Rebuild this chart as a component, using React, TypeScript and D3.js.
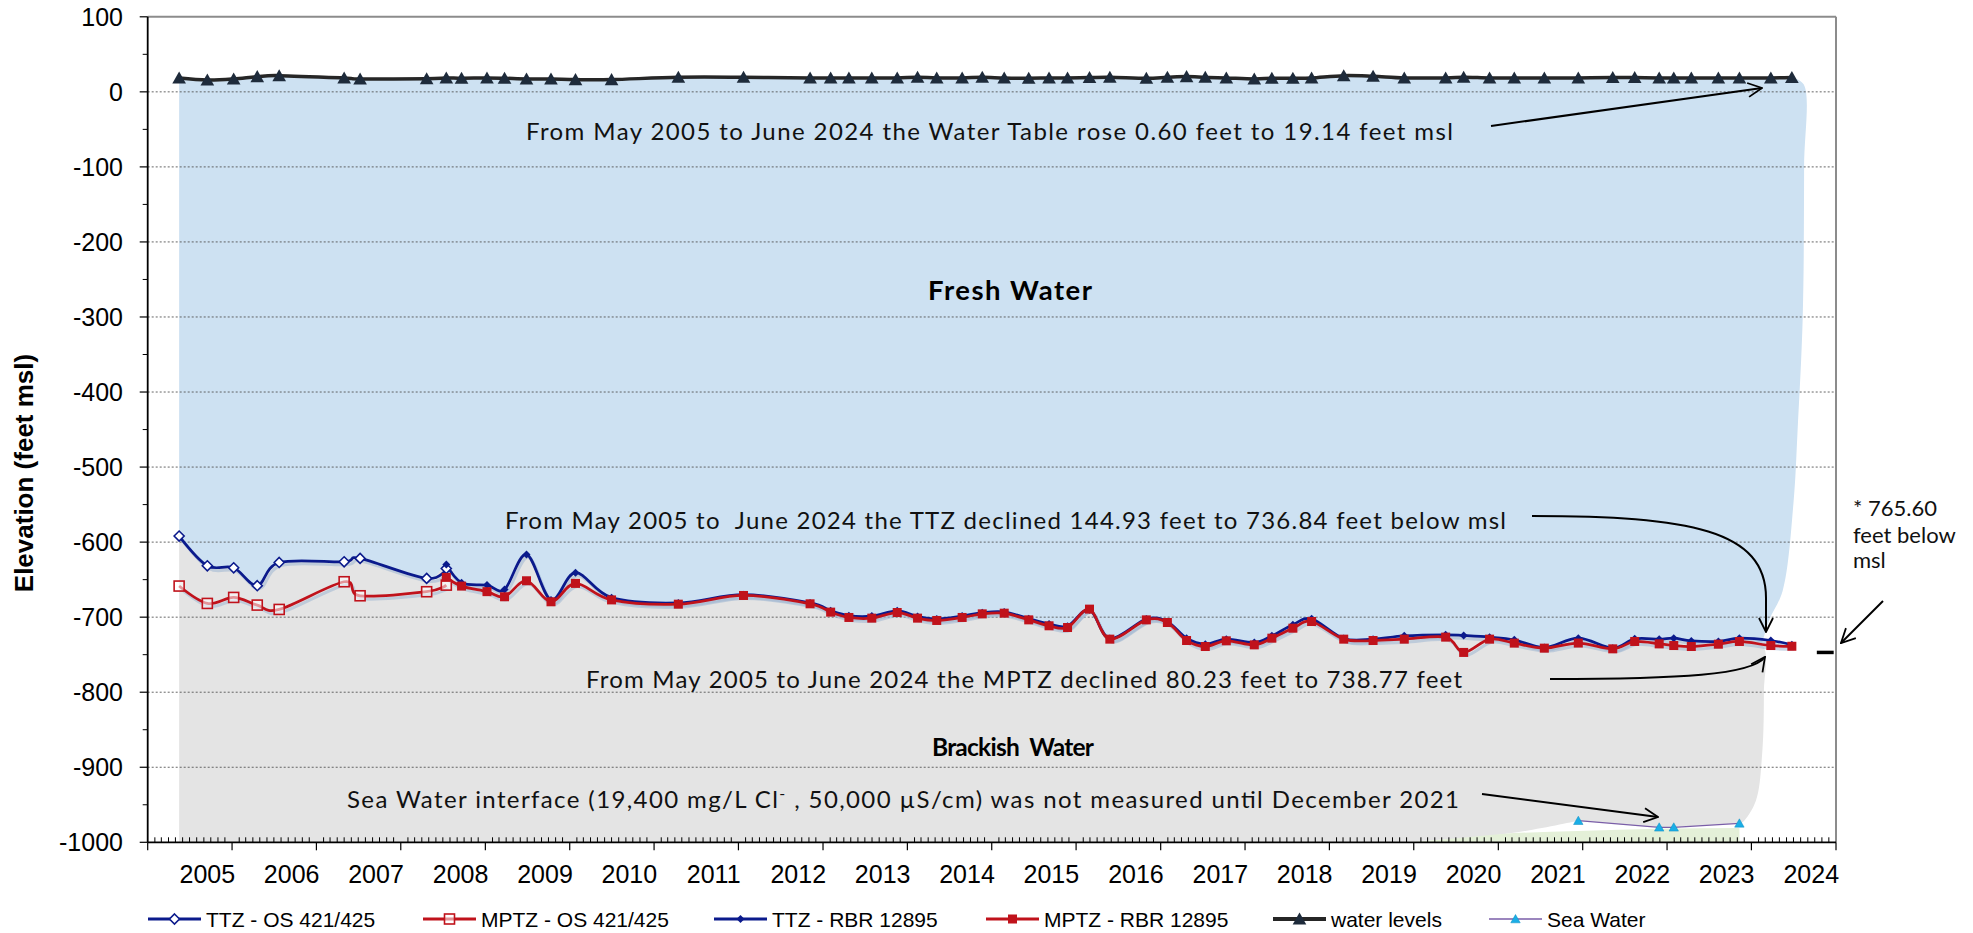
import * as d3 from 'd3';
import { useMemo } from 'react';

// sampling dates shared by every well series
const sampleDates = [
  '2005-05-17', '2005-09-16', '2006-01-08', '2006-04-20', '2006-07-24', '2007-05-01', '2007-07-09',
  '2008-04-22', '2008-07-16', '2008-09-20', '2009-01-08', '2009-03-25', '2009-06-28', '2009-10-12',
  '2010-01-26', '2010-07-01', '2011-04-16', '2012-01-23', '2012-11-06', '2013-02-03', '2013-04-23',
  '2013-07-31', '2013-11-18', '2014-02-14', '2014-05-08', '2014-08-26', '2014-11-21', '2015-02-24',
  '2015-06-10', '2015-09-06', '2015-11-25', '2016-02-28', '2016-05-26', '2016-10-31', '2017-01-30',
  '2017-04-23', '2017-07-13', '2017-10-12', '2018-02-10', '2018-04-27', '2018-07-27', '2018-10-16',
  '2019-03-04', '2019-07-09', '2019-11-21', '2020-05-18', '2020-08-04', '2020-11-24', '2021-03-11',
  '2021-07-19', '2021-12-13', '2022-05-11', '2022-08-14', '2022-11-28', '2023-01-30', '2023-04-16',
  '2023-08-11', '2023-11-10', '2024-03-25', '2024-06-24',
];

// OS 421/425 covers the first 9 dates, RBR 12895 from the 9th date on
const ttzOs = [-591.91, -631.5, -634.2, -658.1, -627.1, -626.2, -621.7, -648.4, -635.1];
const mptzOs = [-658.54, -681.7, -673.7, -683.9, -689.7, -652.8, -671.5, -666.1, -657.3];
const rbrStart = 8;

const ttzRbr = [
  -629.7, -654.1, -657.3, -663, -616.4, -677.2, -640.8, -674, -681, -670, -681, -691.5, -698,
  -698.5, -691.5, -699, -702.5, -698.5, -694, -693, -702, -709, -712, -690, -728.5, -702.5,
  -706, -728, -736, -729.3, -733.7, -724.9, -710.2, -702.2, -728.5, -729.3, -724.9, -723.5,
  -724.5, -726.6, -730.2, -740.4, -728, -741.3, -728.9, -729.3, -728, -731.6, -732.4, -728,
  -731.1, -736.84,
];

const mptzRbr = [
  -647, -658.6, -666, -672.8, -651.5, -679.5, -655, -677, -682.7, -671.1, -682.2, -693.3, -700.4,
  -701.3, -693.8, -701.3, -704.4, -700.4, -695.6, -694.7, -703.6, -711.5, -713.8, -689.3, -729.3,
  -703.6, -707.1, -731.1, -739.1, -731.5, -736.9, -728, -714.7, -705.8, -729.3, -731.1, -729.3,
  -726.6, -747, -729.3, -734.6, -741.3, -734.5, -742.2, -732.4, -735.6, -737.8, -739.1, -736,
  -732.4, -737.8, -738.77,
];

const waterLevels = [
  18.54, 15.8, 17.2, 20.3, 21.6, 18.5, 17.2, 17.6, 18.5, 18.1, 18.5, 18.1, 17.2, 17.2, 16.3, 16.3,
  19.4, 19.4, 18.5, 18.5, 18.5, 18.5, 18.5, 19.4, 18.5, 18.5, 19.4, 18.5, 18.1, 18.5, 18.5, 19.0,
  19.4, 18.1, 19.4, 20.3, 19.4, 18.5, 17.2, 18.1, 18.1, 18.5, 21.6, 20.7, 18.5, 18.5, 19.4, 18.5,
  18.5, 18.5, 18.5, 19.0, 19.0, 18.5, 18.5, 18.5, 18.5, 18.5, 18.5, 19.14,
];

const seaWaterDates = ['2021-12-13', '2022-11-28', '2023-01-30', '2023-11-10'];
const seaWater = [-971.2, -980, -980, -974.7];

// outline of the shaded zones (date, elevation)
const freshEdgeDates = ['2024-08-14', '2024-08-16', '2024-08-10', '2024-07-19', '2024-07-01', '2024-05-15', '2024-03-18', '2024-02-17'];
const freshEdgeValues = [10, -100, -300, -450, -548, -665, -704, -734];
const brackishEdgeDates = ['2024-02-20', '2024-02-24', '2024-02-17', '2024-01-20', '2023-11-25'];
const brackishEdgeValues = [-738, -800, -880, -945, -973];
const brackishFloorDates = ['2021-03-15', '2020-06-01', '2019-08-01'];
const brackishFloorValues = [-987, -996, -1000];
const seaZoneDates = ['2019-12-15', '2020-08-01', '2021-01-15', '2021-12-13', '2022-11-28', '2023-11-10'];
const seaZoneValues = [-1000, -994, -989, -985, -982, -981];

const yearLabels = [2005, 2006, 2007, 2008, 2009, 2010, 2011, 2012, 2013, 2014, 2015, 2016, 2017, 2018, 2019, 2020, 2021, 2022, 2023, 2024];
const yTicks = [100, 0, -100, -200, -300, -400, -500, -600, -700, -800, -900, -1000];
const gridValues = [0, -100, -200, -300, -400, -500, -600, -700, -800, -900];

const NAVY = '#0B1A8C';
const RED = '#C0121B';
const FRESH = '#CDE1F2';
const BRACKISH = '#E4E4E4';
const SEA = '#E4F0D8';
const AX_FONT = "'Liberation Sans', Arial, sans-serif";
const NOTE_FONT = "Lato, 'Open Sans', sans-serif";

const parse = d3.timeParse('%Y-%m-%d');
type Pt = [Date, number];
const zip = (dates: string[], vals: number[]): Pt[] => vals.map((v, i) => [parse(dates[i]) as Date, v]);

const diamond = (r: number) => `M0,${-r}L${r},0L0,${r}L${-r},0Z`;
const triangle = (r: number) => `M0,${-r}L${r * 1.05},${r * 0.85}L${-r * 1.05},${r * 0.85}Z`;

const App = () => {
  const margin = { left: 147.7, right: 1836, top: 16.8, bottom: 842.3 };

  const x = useMemo(
    () => d3.scaleTime().domain([new Date(2005, 0, 1), new Date(2025, 0, 1)]).range([margin.left, margin.right]),
    []
  );
  const y = useMemo(() => d3.scaleLinear().domain([-1000, 100]).range([margin.bottom, margin.top]), []);

  const ttzOsPts = zip(sampleDates.slice(0, ttzOs.length), ttzOs);
  const mptzOsPts = zip(sampleDates.slice(0, mptzOs.length), mptzOs);
  const ttzRbrPts = zip(sampleDates.slice(rbrStart), ttzRbr);
  const mptzRbrPts = zip(sampleDates.slice(rbrStart), mptzRbr);
  const waterPts = zip(sampleDates, waterLevels);
  const seaPts = zip(seaWaterDates, seaWater);

  const smooth = d3
    .line<Pt>()
    .x((d) => x(d[0]))
    .y((d) => y(d[1]))
    .curve(d3.curveCardinal.tension(0));
  const edge = d3
    .line<Pt>()
    .x((d) => x(d[0]))
    .y((d) => y(d[1]))
    .curve(d3.curveCatmullRom.alpha(0.5));
  const cont = (p: string | null) => 'L' + (p || '').slice(1);

  // TTZ boundary between fresh and brackish water
  const ttzAll: Pt[] = [...ttzOsPts.slice(0, rbrStart), ...ttzRbrPts];
  const lastFresh = parse(freshEdgeDates[freshEdgeDates.length - 1]) as Date;
  const ttzInside = ttzAll.filter((d) => d[0] < lastFresh);

  const freshEdge = zip(freshEdgeDates, freshEdgeValues);
  const freshPath =
    smooth(waterPts) +
    cont(edge([waterPts[waterPts.length - 1], ...freshEdge])) +
    cont(smooth([...ttzInside].reverse())) +
    'Z';

  const brackishEdge = zip(brackishEdgeDates, brackishEdgeValues);
  const brackishFloor = zip(brackishFloorDates, brackishFloorValues);
  const brackishPath =
    smooth(ttzInside) +
    cont(edge([ttzInside[ttzInside.length - 1], ...brackishEdge, seaPts[seaPts.length - 1]])) +
    cont(smooth([...seaPts].reverse())) +
    cont(edge([seaPts[0], ...brackishFloor])) +
    `L${x(ttzAll[0][0])},${y(-1000)}Z`;

  const seaZone = zip(seaZoneDates, seaZoneValues);
  const seaZonePath =
    d3
      .line<Pt>()
      .x((d) => x(d[0]))
      .y((d) => y(d[1]))
      .curve(d3.curveMonotoneX)(seaZone) + `L${x(seaZone[seaZone.length - 1][0])},${y(-1000)}Z`;

  const months = d3.timeMonth.range(new Date(2005, 0, 1), new Date(2025, 0, 1)).filter((d) => d.getMonth() !== 0);
  const years = d3.timeYear.range(new Date(2005, 0, 1), new Date(2025, 1, 1));
  const minorY = d3.range(-950, 100, 100);

  const series = [
    { pts: ttzOsPts, color: NAVY, width: 2.75 },
    { pts: ttzRbrPts, color: NAVY, width: 2.75 },
    { pts: mptzOsPts, color: RED, width: 2.75 },
    { pts: mptzRbrPts, color: RED, width: 2.75 },
  ];

  const legend = [
    { label: 'TTZ - OS 421/425', x0: 148, color: NAVY, w: 3, mark: 'openDiamond' },
    { label: 'MPTZ - OS 421/425', x0: 423, color: RED, w: 3, mark: 'openSquare' },
    { label: 'TTZ - RBR 12895', x0: 714, color: NAVY, w: 3, mark: 'diamond' },
    { label: 'MPTZ - RBR 12895', x0: 986, color: RED, w: 3, mark: 'square' },
    { label: 'water levels', x0: 1273, color: '#262626', w: 4, mark: 'triangle' },
    { label: 'Sea Water', x0: 1489, color: '#7A5EA8', w: 1.3, mark: 'seaTriangle' },
  ];

  const drawMark = (kind: string, color: string) => {
    switch (kind) {
      case 'openDiamond':
        return <path d={diamond(5)} fill="#fff" stroke={color} strokeWidth={1.6} />;
      case 'openSquare':
        return <rect x={-5} y={-5} width={10} height={10} fill="#fff" fillOpacity={0.55} stroke={color} strokeWidth={1.6} />;
      case 'diamond':
        return <path d={diamond(4)} fill={color} />;
      case 'square':
        return <rect x={-4.5} y={-4.5} width={9} height={9} fill={color} />;
      case 'triangle':
        return <path d={triangle(6.5)} fill="#1E2B3B" />;
      default:
        return <path d={triangle(4.5)} fill="#1AAEE6" stroke="#0E8CC0" strokeWidth={0.5} />;
    }
  };

  const noteStyle = { fontFamily: NOTE_FONT, fontSize: 24, fill: '#111' };

  return (
    <svg
      width={1973}
      height={933}
      style={{ position: 'absolute', left: 0, top: 0, background: '#fff', display: 'block' }}
    >
      <defs>
        <marker id="vhead" viewBox="0 0 16 16" refX="15" refY="8" markerWidth="16" markerHeight="16" markerUnits="userSpaceOnUse" orient="auto">
          <path d="M1,1 L15,8 L1,15" fill="none" stroke="#000" strokeWidth={1.8} />
        </marker>
      </defs>

      {/* shaded zones */}
      <path d={freshPath} fill={FRESH} />
      <path d={brackishPath} fill={BRACKISH} />
      <path d={seaZonePath} fill={SEA} />

      {/* gridlines */}
      {gridValues.map((v) => (
        <line key={v} x1={margin.left} x2={margin.right} y1={y(v)} y2={y(v)} stroke="#555" strokeWidth={0.9} strokeDasharray="2,2" />
      ))}

      {/* frame */}
      <line x1={margin.left} x2={margin.right} y1={margin.top} y2={margin.top} stroke="#8C8C8C" strokeWidth={2} />
      <line x1={margin.right} x2={margin.right} y1={margin.top} y2={margin.bottom} stroke="#8C8C8C" strokeWidth={2} />

      {/* sea water */}
      <path d={d3.line<Pt>().x((d) => x(d[0])).y((d) => y(d[1]))(seaPts) || ''} fill="none" stroke="#7A5EA8" strokeWidth={1.3} />
      {seaPts.map((d, i) => (
        <g key={'s' + i} transform={`translate(${x(d[0])},${y(d[1])})`}>
          {drawMark('seaTriangle', '')}
        </g>
      ))}

      {/* shadows under the zone lines */}
      {series.map((s, i) => (
        <path key={'sh' + i} d={smooth(s.pts) || ''} fill="none" stroke="#9FB6D2" strokeOpacity={0.55} strokeWidth={3} transform="translate(2,3)" />
      ))}

      {/* TTZ and MPTZ lines */}
      {series.map((s, i) => (
        <path key={'l' + i} d={smooth(s.pts) || ''} fill="none" stroke={s.color} strokeWidth={s.width} strokeLinejoin="round" />
      ))}
      {ttzOsPts.map((d, i) => (
        <g key={'to' + i} transform={`translate(${x(d[0])},${y(d[1])})`}>{drawMark('openDiamond', NAVY)}</g>
      ))}
      {ttzRbrPts.map((d, i) => (
        <g key={'tr' + i} transform={`translate(${x(d[0])},${y(d[1])})`}>{drawMark('diamond', NAVY)}</g>
      ))}
      {mptzOsPts.map((d, i) => (
        <g key={'mo' + i} transform={`translate(${x(d[0])},${y(d[1])})`}>{drawMark('openSquare', RED)}</g>
      ))}
      {mptzRbrPts.map((d, i) => (
        <g key={'mr' + i} transform={`translate(${x(d[0])},${y(d[1])})`}>{drawMark('square', RED)}</g>
      ))}

      {/* water levels */}
      <path d={smooth(waterPts) || ''} fill="none" stroke="#262626" strokeWidth={3.5} />
      {waterPts.map((d, i) => (
        <g key={'w' + i} transform={`translate(${x(d[0])},${y(d[1])})`}>{drawMark('triangle', '')}</g>
      ))}

      {/* axes */}
      <line x1={margin.left} x2={margin.left} y1={margin.top} y2={margin.bottom} stroke="#000" strokeWidth={1.8} />
      <line x1={margin.left} x2={margin.right} y1={margin.bottom} y2={margin.bottom} stroke="#000" strokeWidth={1.8} />
      {yTicks.map((v) => (
        <g key={'yt' + v}>
          <line x1={margin.left - 8} x2={margin.left} y1={y(v)} y2={y(v)} stroke="#000" strokeWidth={1.2} />
          <text x={123} y={y(v)} dy="0.36em" textAnchor="end" fontFamily={AX_FONT} fontSize={25}>
            {v}
          </text>
        </g>
      ))}
      {minorY.map((v) => (
        <line key={'ym' + v} x1={margin.left - 5} x2={margin.left} y1={y(v)} y2={y(v)} stroke="#000" strokeWidth={1} />
      ))}
      {months.map((d) => (
        <line key={'xm' + d.getTime()} x1={x(d)} x2={x(d)} y1={margin.bottom - 5} y2={margin.bottom} stroke="#000" strokeWidth={1} />
      ))}
      {years.map((d) => (
        <line key={'xt' + d.getTime()} x1={x(d)} x2={x(d)} y1={margin.bottom} y2={margin.bottom + 8} stroke="#000" strokeWidth={1.2} />
      ))}
      {yearLabels.map((yr) => (
        <text key={'xl' + yr} x={x(new Date(yr, 8, 16))} y={883} textAnchor="middle" fontFamily={AX_FONT} fontSize={25}>
          {yr}
        </text>
      ))}
      <text
        transform={`translate(33,473) rotate(-90)`}
        textAnchor="middle"
        fontFamily={AX_FONT}
        fontWeight="bold"
        fontSize={26}
      >
        Elevation (feet msl)
      </text>

      {/* annotations */}
      <text x={526} y={140} {...noteStyle} textLength={927} lengthAdjust="spacing">
        From May 2005 to June 2024 the Water Table rose 0.60 feet to 19.14 feet msl
      </text>
      <text x={928} y={300} fontFamily={NOTE_FONT} fontSize={27.5} fontWeight="bold" textLength={164} lengthAdjust="spacing">
        Fresh Water
      </text>
      <text x={505} y={529} {...noteStyle} textLength={1001} lengthAdjust="spacing" style={{ whiteSpace: 'pre' }}>
        {'From May 2005 to  June 2024 the TTZ declined 144.93 feet to 736.84 feet below msl'}
      </text>
      <text x={586} y={688} {...noteStyle} textLength={876} lengthAdjust="spacing">
        From May 2005 to June 2024 the MPTZ declined 80.23 feet to 738.77 feet
      </text>
      <text x={932} y={756} fontFamily={NOTE_FONT} fontSize={24.5} fontWeight="bold" textLength={162} lengthAdjust="spacing" style={{ whiteSpace: 'pre' }}>
        {'Brackish  Water'}
      </text>
      <text x={347} y={808} {...noteStyle} textLength={1112} lengthAdjust="spacing">
        Sea Water interface (19,400 mg/L Cl
        <tspan dy={-9} fontSize={16}>-</tspan>
        <tspan dy={9}> , 50,000 µS/cm) was not measured until December 2021</tspan>
      </text>
      <g fontFamily={NOTE_FONT} fontSize={22} fill="#111">
        <text x={1853} y={516}>* 765.60</text>
        <text x={1853} y={543}>feet below</text>
        <text x={1853} y={568}>msl</text>
      </g>

      <g fill="none" stroke="#000" strokeWidth={2} markerEnd="url(#vhead)">
        <path d="M1491,126 L1762,88" />
        <path d="M1532,516 C1690,516 1766,530 1766,598 L1766,632" />
        <path d="M1550,679 C1680,679 1752,675 1765,657" />
        <path d="M1482,794 L1658,817" />
        <path d="M1883,601 L1841,643" />
      </g>
      <line x1={x(new Date(2024, 9, 10))} x2={x(new Date(2024, 11, 22))} y1={y(-747)} y2={y(-747)} stroke="#000" strokeWidth={3.5} />

      {/* legend */}
      {legend.map((l) => (
        <g key={l.label} transform={`translate(${l.x0},919)`}>
          <line x1={0} x2={53} y1={0} y2={0} stroke={l.color} strokeWidth={l.w} />
          <g transform="translate(26.5,0)">{drawMark(l.mark, l.color)}</g>
          <text x={58} y={0} dy="0.36em" fontFamily={AX_FONT} fontSize={21}>
            {l.label}
          </text>
        </g>
      ))}
    </svg>
  );
};

export default App;
